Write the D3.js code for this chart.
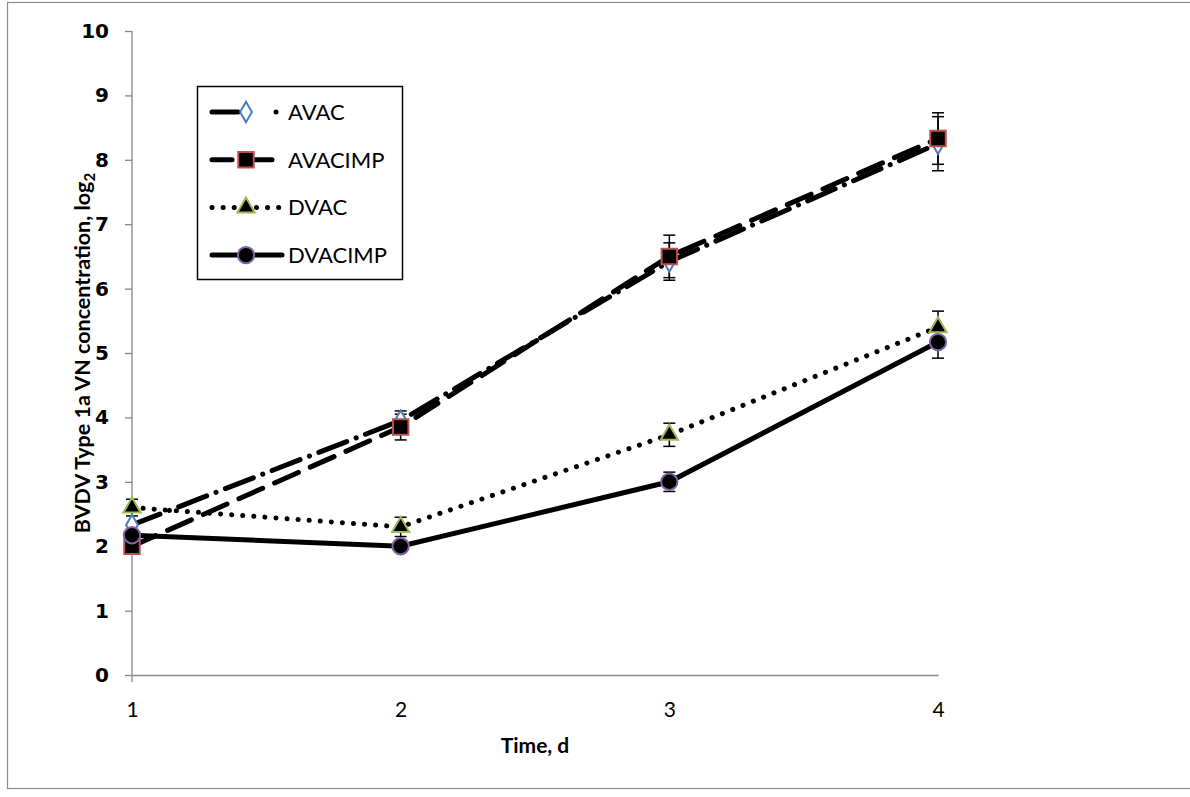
<!DOCTYPE html>
<html>
<head>
<meta charset="utf-8">
<script src="https://d3js.org/d3.v7.min.js"></script>
<style>
  body { margin: 0; background: #fff; }
  svg { display: block; }
</style>
</head>
<body>
<svg id="chart" width="1190" height="797"></svg>
<script>
// chart data
var days = [1, 2, 3, 4];
var yTicks = [0, 1, 2, 3, 4, 5, 6, 7, 8, 9, 10];
var seriesNames = ["AVAC", "AVACIMP", "DVAC", "DVACIMP"];
var avac      = [2.33, 3.95, 6.42, 8.25];
var avacErr   = [0, 0.15, 0.29, 0.42];
var avacimp   = [2.0, 3.85, 6.5, 8.33];
var avacimpErr = [0, 0.2, 0.33, 0.4];
var dvac      = [2.6, 2.3, 3.73, 5.4];
var dvacErr   = [0.13, 0.15, 0.18, 0.25];
var dvacimp   = [2.17, 2.0, 3.0, 5.17];
var dvacimpErr = [0, 0, 0.15, 0.25];

// styling for each series
var styles = [
  { vals: avac, err: avacErr, dash: "30,10,0.1,10", sym: d3.symbolDiamond, size: 120, fill: "#fff", stroke: "#4a7ebb" },
  { vals: avacimp, err: avacimpErr, dash: "26,13", sym: d3.symbolSquare, size: 240, fill: "#000", stroke: "#c0504d" },
  { vals: dvac, err: dvacErr, dash: "0.1,11", sym: d3.symbolTriangle, size: 130, fill: "#000", stroke: "#9bbb59" },
  { vals: dvacimp, err: dvacimpErr, dash: null, sym: d3.symbolCircle, size: 210, fill: "#000", stroke: "#8064a2" }
];

var svg = d3.select("#chart");

// outer chart frame
svg.append("rect")
  .attr("x", 7.5).attr("y", 2.5)
  .attr("width", 1200).attr("height", 786)
  .attr("fill", "#fff").attr("stroke", "#8c8c8c").attr("stroke-width", 1.2);

var x = d3.scaleLinear().domain([1, 4]).range([132, 938]);
var y = d3.scaleLinear().domain([0, 10]).range([675, 31]);

// y axis
var yAxis = svg.append("g")
  .attr("transform", "translate(132,0)")
  .call(d3.axisLeft(y).tickValues(yTicks).tickSize(7).tickPadding(16));
yAxis.selectAll("path, line").attr("stroke", "#868686").attr("stroke-width", 1.3);
yAxis.select(".domain").attr("d", "M0," + y(10) + "V" + (y(0) + 7));
yAxis.selectAll("text")
  .style("font-family", "DejaVu Sans").style("font-weight", "bold")
  .style("font-size", "20px").attr("fill", "#000");

// x axis
var xAxis = svg.append("g")
  .attr("transform", "translate(0," + y(0) + ")")
  .call(d3.axisBottom(x).tickValues(days).tickFormat(d3.format("d")).tickSize(0).tickPadding(27));
xAxis.select(".domain").attr("stroke", "#868686").attr("stroke-width", 1.3);
xAxis.selectAll("text")
  .style("font-family", "Lato").style("font-size", "21px").attr("fill", "#000");

// axis titles
var yTitle = svg.append("text")
  .attr("transform", "translate(90,353) rotate(-90)")
  .attr("text-anchor", "middle")
  .style("font-family", "Lato").style("font-weight", "bold").style("font-size", "21.5px");
yTitle.append("tspan").text("BVDV Type 1a VN concentration, log");
yTitle.append("tspan").attr("dy", 5).style("font-size", "15px").text("2");

svg.append("text")
  .attr("x", 535).attr("y", 753)
  .attr("text-anchor", "middle")
  .style("font-family", "Lato").style("font-weight", "bold").style("font-size", "21px")
  .text("Time, d");

// error bars
styles.forEach(function(s) {
  var g = svg.append("g").attr("stroke", "#000").attr("stroke-width", 1.5);
  days.forEach(function(d, i) {
    if (!s.err[i]) return;
    var cx = x(d), top = y(s.vals[i] + s.err[i]), bot = y(s.vals[i] - s.err[i]);
    g.append("line").attr("x1", cx).attr("x2", cx).attr("y1", top).attr("y2", bot);
    g.append("line").attr("x1", cx - 6).attr("x2", cx + 6).attr("y1", top).attr("y2", top);
    g.append("line").attr("x1", cx - 6).attr("x2", cx + 6).attr("y1", bot).attr("y2", bot);
  });
});

// lines
var line = d3.line().x(function(d, i) { return x(days[i]); }).y(function(d) { return y(d); });
styles.forEach(function(s) {
  svg.append("path")
    .attr("d", line(s.vals))
    .attr("fill", "none").attr("stroke", "#000").attr("stroke-width", 5)
    .attr("stroke-linecap", "round")
    .attr("stroke-dasharray", s.dash);
});

// markers
styles.forEach(function(s) {
  svg.append("g").selectAll("path")
    .data(s.vals).enter().append("path")
    .attr("transform", function(d, i) { return "translate(" + x(days[i]) + "," + y(d) + ")"; })
    .attr("d", d3.symbol().type(s.sym).size(s.size))
    .attr("fill", s.fill).attr("stroke", s.stroke).attr("stroke-width", 2);
});

// legend
var legend = svg.append("g");
legend.append("rect")
  .attr("x", 197.5).attr("y", 86.5).attr("width", 205).attr("height", 193)
  .attr("fill", "#fff").attr("stroke", "#000").attr("stroke-width", 1.5);
seriesNames.forEach(function(name, i) {
  var s = styles[i];
  var ly = 112 + i * 47.7;
  legend.append("path")
    .attr("d", "M212," + ly + "H" + (i === 1 ? 272 : 282))
    .attr("fill", "none").attr("stroke", "#000").attr("stroke-width", 5)
    .attr("stroke-linecap", "round")
    .attr("stroke-dasharray", i === 0 ? "26,38,0.1,20" : (i === 1 ? "20,23" : s.dash));
  legend.append("path")
    .attr("transform", "translate(246," + ly + ")")
    .attr("d", d3.symbol().type(s.sym).size(s.size))
    .attr("fill", s.fill).attr("stroke", s.stroke).attr("stroke-width", 2);
  legend.append("text")
    .attr("x", 288).attr("y", ly + 8)
    .style("font-family", "Lato").style("font-size", "22px")
    .text(name);
});
</script>
</body>
</html>
